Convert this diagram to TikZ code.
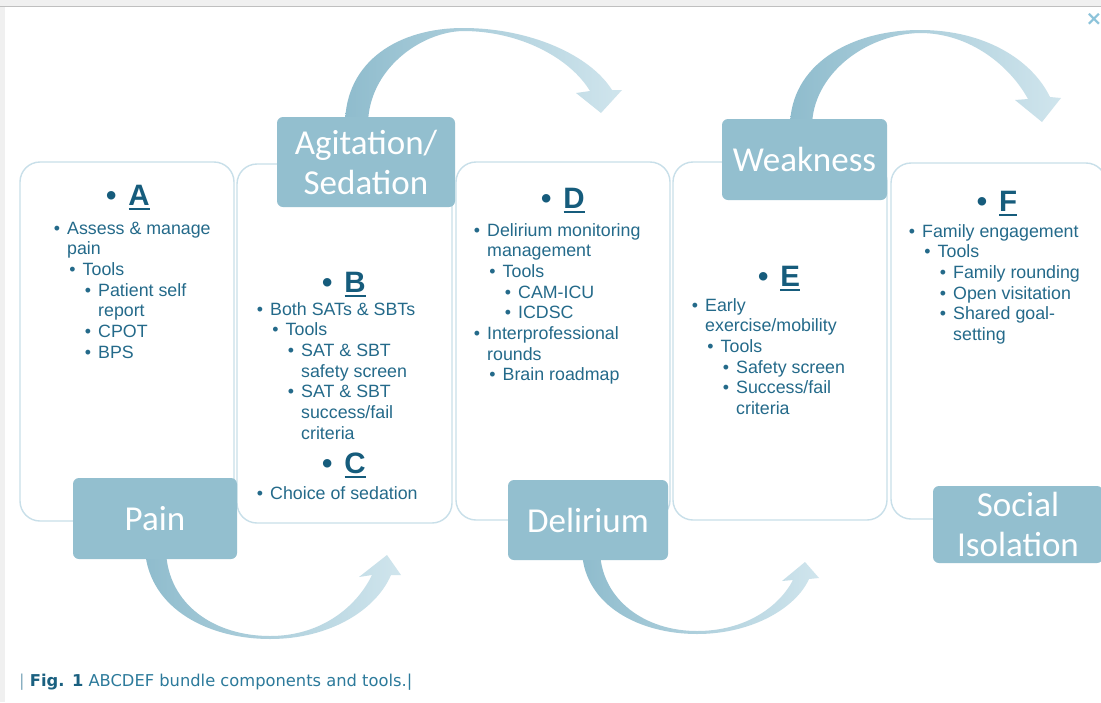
\documentclass[tikz,border=0pt]{standalone}
\usepackage{fontspec}
\setmainfont{Liberation Sans}
\newfontfamily\calib{Carlito}
\newfontfamily\verd{DejaVu Sans}
\usetikzlibrary{positioning}

\definecolor{lblblue}{RGB}{147,191,207}
\definecolor{cardline}{RGB}{200,223,233}
\definecolor{txtblue}{RGB}{36,106,138}
\definecolor{ltrblue}{RGB}{22,92,124}
\definecolor{arrdark}{RGB}{143,188,205}
\definecolor{arrlight}{RGB}{208,229,237}
\definecolor{capblue}{RGB}{44,122,155}
\definecolor{capdark}{RGB}{26,96,128}
\definecolor{capbar}{RGB}{130,170,190}
\definecolor{closeblue}{RGB}{140,195,218}
\definecolor{framegray}{RGB}{240,240,240}

% one bullet line of a list, #1 = indent
\newcommand\itm[2]{\par\leftskip=#1pt\noindent\llap{\textbullet\hspace{7pt}}#2}
\newcommand\lst[1]{\vtop{\hsize=215pt\fontsize{17.8}{20.7}\selectfont\raggedright #1\par}}
\newcommand\hdr[1]{\textbullet\hspace{12pt}\vtop{\hbox{#1}\kern2.5pt\hrule height 2.6pt}}

\tikzset{
  card/.style={draw=cardline, line width=1.4pt, fill=white, rounded corners=20pt},
  lbl/.style={fill=lblblue, rounded corners=6pt, text=white, font=\calib\fontsize{35}{40}\selectfont, align=center, inner sep=0pt},
  hdr/.style={text=ltrblue, font=\bfseries\fontsize{29.5}{30}\selectfont, anchor=base, inner sep=0pt},
  lst/.style={text=txtblue, anchor=base west, inner sep=0pt},
  arr/.style={left color=arrdark, right color=arrlight, draw=none},
}

\begin{document}
\begin{tikzpicture}[x=1pt,y=-1pt]
    \useasboundingbox (0,0) rectangle (1101,702);
    \clip (0,0) rectangle (1101,702);
    % page frame
    \fill[framegray] (0,0) rectangle (1101,702);
    \fill[white] (5,7) rectangle (1101,702);
    \draw[black!25, line width=1pt] (0,6.5) -- (1101,6.5);
    \node[text=closeblue, font=\verd\bfseries\fontsize{20}{20}\selectfont] (close) at (1094,19) {×};

    % curved arrows
    \shade[arr] (368,125) -- (345,125) .. controls (345,60) and (400,28) .. (463,28) .. controls (530,28) and (590,55) .. (612,90) -- (622,90) -- (601,113) -- (576,93) -- (590,91) .. controls (570,58) and (520,31) .. (463,31) .. controls (420,32) and (368,70) .. (368,125) -- cycle;
    \shade[arr] (812,127) -- (790,127) .. controls (790,65) and (850,30) .. (920,30) .. controls (985,30) and (1032,60) .. (1050,97) -- (1061,98) -- (1042,122) -- (1015,100) -- (1028,99) .. controls (1010,66) and (970,33) .. (920,33) .. controls (865,34) and (812,75) .. (812,127) -- cycle;
    \shade[arr] (166,551) -- (145,551) .. controls (150,610) and (210,639) .. (270,639) .. controls (330,639) and (376,610) .. (391,575) -- (401,575) -- (387,555) -- (359,577) -- (372,575) .. controls (356,608) and (320,636) .. (270,636) .. controls (215,636) and (168,605) .. (166,551) -- cycle;
    \shade[arr] (600,552) -- (582,552) .. controls (585,606) and (640,634) .. (697,634) .. controls (752,634) and (796,608) .. (809,579) -- (819,578) -- (805,562) -- (782,581) -- (793,580) .. controls (779,607) and (745,631) .. (697,631) .. controls (645,631) and (602,600) .. (600,552) -- cycle;

    % white cards
    \draw[card] (20,162) rectangle (234,521);
    \draw[card] (237,164) rectangle (452,523);
    \draw[card] (456,162) rectangle (670,520);
    \draw[card] (673,162) rectangle (887,520);
    \draw[card] (891,163) rectangle (1106,519);

    % label boxes
    \node[lbl, minimum width=164pt, minimum height=81pt] (pain) at (155,518.5) {Pain};
    \node[lbl, minimum width=178pt, minimum height=90pt] (agit) at (366,162) {Agitation/\\Sedation};
    \node[lbl, minimum width=160pt, minimum height=80pt] (delir) at (588,520) {Delirium};
    \node[lbl, minimum width=165pt, minimum height=81pt] (weak) at (804.5,159.5) {Weakness};
    \node[lbl, minimum width=170pt, minimum height=77pt] (social) at (1018,524.5) {Social\\Isolation};

    % card contents
    \node[hdr] (hA) at (128,205) {\hdr{A}};
    \node[lst] (lA) at (67,234) {\lst{\itm{0}{Assess \& manage\\pain}\itm{15.5}{Tools}\itm{31}{Patient self\\report}\itm{31}{CPOT}\itm{31}{BPS}}};
    \node[hdr] (hB) at (344,292) {\hdr{B}};
    \node[lst] (lB) at (270,315) {\lst{\itm{0}{Both SATs \& SBTs}\itm{15.5}{Tools}\itm{31}{SAT \& SBT\\safety screen}\itm{31}{SAT \& SBT\\success/fail\\criteria}}};
    \node[hdr] (hC) at (344,473) {\hdr{C}};
    \node[lst] (lC) at (270,499) {\lst{\itm{0}{Choice of sedation}}};
    \node[hdr] (hD) at (563,208) {\hdr{D}};
    \node[lst] (lD) at (487,236) {\lst{\itm{0}{Delirium monitoring\\management}\itm{15.5}{Tools}\itm{31}{CAM-ICU}\itm{31}{ICDSC}\itm{0}{Interprofessional\\rounds}\itm{15.5}{Brain roadmap}}};
    \node[hdr] (hE) at (779,286) {\hdr{E}};
    \node[lst] (lE) at (705,311) {\lst{\itm{0}{Early\\exercise/mobility}\itm{15.5}{Tools}\itm{31}{Safety screen}\itm{31}{Success/fail\\criteria}}};
    \node[hdr] (hF) at (997,211) {\hdr{F}};
    \node[lst] (lF) at (922,237) {\lst{\itm{0}{Family engagement}\itm{15.5}{Tools}\itm{31}{Family rounding}\itm{31}{Open visitation}\itm{31}{Shared goal-\\setting}}};

    % caption
    \node[anchor=base west, inner sep=0pt, font=\verd\fontsize{16.3}{19}\selectfont, text=capblue] (cap) at (19,686) {{\color{capbar}|} \textbf{\color{capdark}Fig. 1} ABCDEF bundle components and tools.|};
\end{tikzpicture}
\end{document}
